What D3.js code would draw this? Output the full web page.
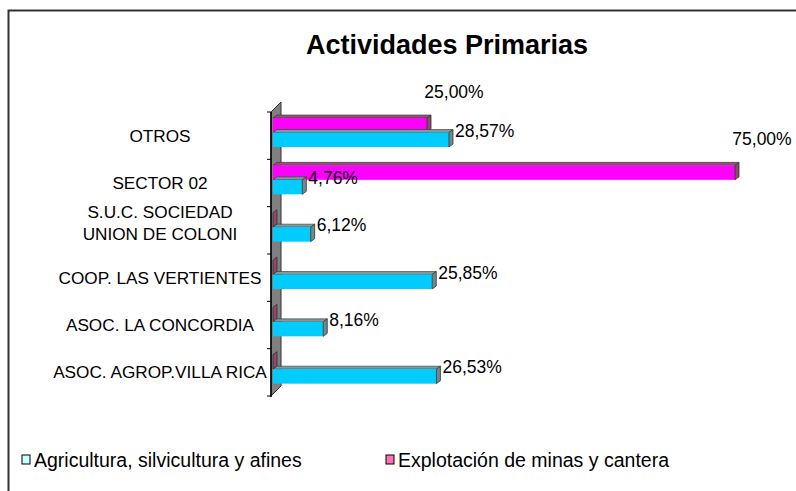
<!DOCTYPE html>
<html>
<head>
<meta charset="utf-8">
<script src="https://cdn.jsdelivr.net/npm/d3@7"></script>
<style>
  body { margin: 0; background: #fff; }
  text { font-family: "Liberation Sans", Arial, sans-serif; fill: #000; }
</style>
</head>
<body>
<div id="chart"></div>
<script>
const categories = ["OTROS", "SECTOR 02", "S.U.C. SOCIEDAD|UNION DE COLONI", "COOP. LAS VERTIENTES", "ASOC. LA CONCORDIA", "ASOC. AGROP.VILLA RICA"];
const agricultura = [28.57, 4.76, 6.12, 25.85, 8.16, 26.53];
const minas = [25.00, 75.00, 0, 0, 0, 0];
const seriesNames = ["Agricultura, silvicultura y afines", "Explotación de minas y cantera"];

const width = 796, height = 491;
const svg = d3.select("#chart").append("svg")
    .attr("width", width)
    .attr("height", height);

// outer frame (right and bottom edges fall outside the picture)
svg.append("rect")
    .attr("x", 8.5).attr("y", 10.5)
    .attr("width", 820).attr("height", 520)
    .attr("fill", "none").attr("stroke", "#333").attr("stroke-width", 2);

svg.append("text")
    .attr("x", 447).attr("y", 54)
    .attr("text-anchor", "middle")
    .style("font-size", "27px").style("font-weight", "bold")
    .text("Actividades Primarias");

const x = d3.scaleLinear().domain([0, 75]).range([273, 735]);
const y = d3.scaleBand().domain(categories).range([112, 396]);

const depthX = 4, depthY = -3;     // bar depth
const wallX = 10, wallY = -10;     // wall depth
const barH = 14.5;

// back wall
const x0 = 271;
svg.append("polygon")
    .attr("points", [[x0, 112], [x0 + wallX, 112 + wallY], [x0 + wallX, 396 + wallY], [x0, 396]].join(" "))
    .attr("fill", "#808080").attr("stroke", "#333").attr("stroke-width", 1);

// axis line and ticks
svg.append("line")
    .attr("x1", x0).attr("x2", x0).attr("y1", 112).attr("y2", 397)
    .attr("stroke", "#000").attr("stroke-width", 1.5);
const tickYs = categories.map(c => y(c)).concat([396]);
svg.selectAll(".tick").data(tickYs).join("line")
    .attr("x1", x0 - 4).attr("x2", x0).attr("y1", d => d).attr("y2", d => d)
    .attr("stroke", "#000").attr("stroke-width", 1);

// category labels
const labelX = 160;
categories.forEach(c => {
    const lines = c.split("|");
    const cy = y(c) + y.bandwidth() / 2 - (lines.length - 1) * 7;
    const t = svg.append("text")
        .attr("x", labelX).attr("text-anchor", "middle")
        .style("font-size", "17.2px");
    lines.forEach((l, i) => {
        t.append("tspan")
            .attr("x", labelX)
            .attr("y", cy + 6 + (i - (lines.length - 1) / 2) * 22)
            .text(l);
    });
});

function drawBar(yTop, value, front, top, side) {
    const xs = x(0), xe = x(value), yb = yTop + barH;
    const g = svg.append("g");
    if (value > 0) {
        g.append("polygon")
            .attr("points", [[xs, yTop], [xs + depthX, yTop + depthY], [xe + depthX, yTop + depthY], [xe, yTop]].join(" "))
            .attr("fill", top).attr("stroke", "#333").attr("stroke-width", 0.6);
        g.append("rect")
            .attr("x", xs).attr("y", yTop).attr("width", xe - xs).attr("height", barH)
            .attr("fill", front);
    }
    g.append("polygon")
        .attr("points", [[xe, yTop], [xe + depthX, yTop + depthY], [xe + depthX, yb + depthY], [xe, yb]].join(" "))
        .attr("fill", side).attr("stroke", "#333").attr("stroke-width", 0.8);
}

const labelFont = "17.5px";
const fmt = v => d3.format(".2f")(v).replace(".", ",") + "%";
categories.forEach((c, i) => {
    const yM = y(c) + 6;
    const yA = yM + barH;
    drawBar(yM, minas[i], "#ff00ff", "#9c4c7c", "#8c4a6c");
    drawBar(yA, agricultura[i], "#00ccff", "#7a9c9c", "#6a8c8c");

    if (minas[i] > 0) {
        svg.append("text")
            .attr("x", x(minas[i]) + 27).attr("y", yM - 20)
            .attr("text-anchor", "middle")
            .style("font-size", labelFont)
            .text(fmt(minas[i]));
    }
    svg.append("text")
        .attr("x", x(agricultura[i]) + 6).attr("y", yA + 4)
        .style("font-size", labelFont)
        .text(fmt(agricultura[i]));
});

// legend
const legendColors = ["#ccffff", "#ff6fb7"];
const legendX = [22, 386];
seriesNames.forEach((name, i) => {
    svg.append("rect")
        .attr("x", legendX[i]).attr("y", 455)
        .attr("width", 8).attr("height", 9)
        .attr("fill", legendColors[i]).attr("stroke", "#000").attr("stroke-width", 1);
    svg.append("text")
        .attr("x", legendX[i] + 12).attr("y", 467)
        .style("font-size", "19.5px")
        .text(name);
});
</script>
</body>
</html>
